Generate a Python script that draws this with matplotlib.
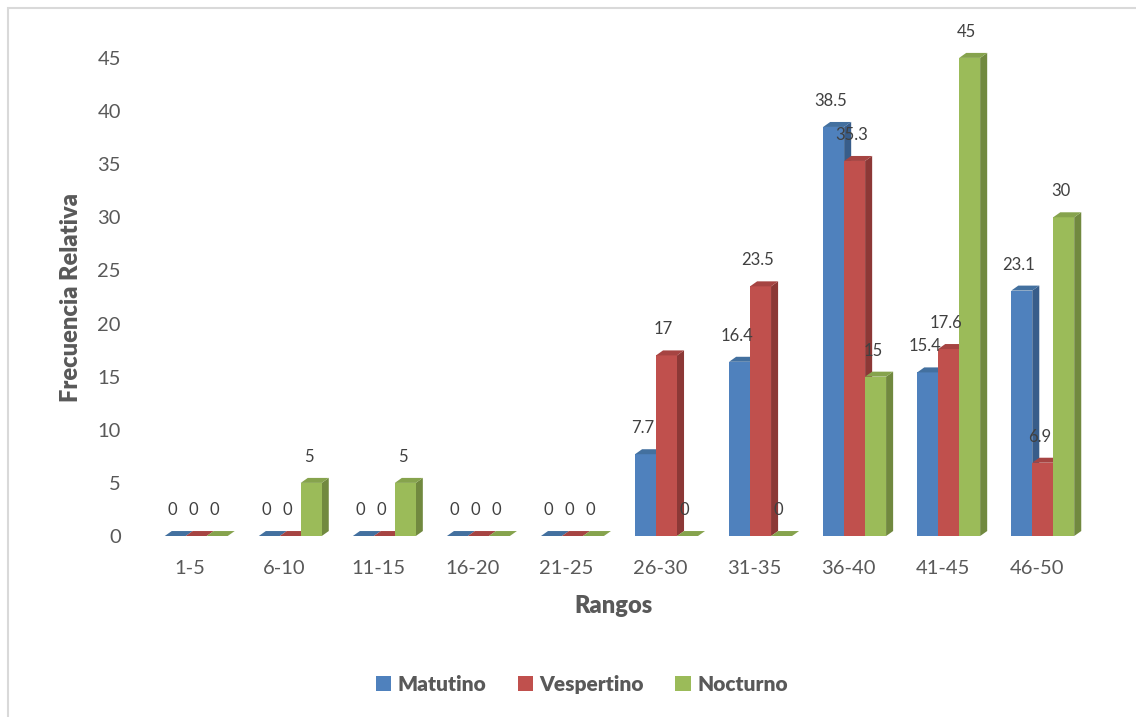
import numpy as np
import matplotlib.pyplot as plt
from matplotlib.patches import Polygon, Rectangle

rangos = ['1-5', '6-10', '11-15', '16-20', '21-25', '26-30', '31-35', '36-40', '41-45', '46-50']
matutino = [0, 0, 0, 0, 0, 7.7, 16.4, 38.5, 15.4, 23.1]
vespertino = [0, 0, 0, 0, 0, 17, 23.5, 35.3, 17.6, 6.9]
nocturno = [0, 5, 5, 0, 0, 0, 0, 15, 45, 30]

series = [('Matutino', matutino), ('Vespertino', vespertino), ('Nocturno', nocturno)]
front = ['#4F81BD', '#C0504D', '#9BBB59']
side = ['#385D8A', '#8C3836', '#71893F']
top = ['#43709F', '#A64442', '#86A34D']

plt.rcParams['font.family'] = ['Lato', 'DejaVu Sans']
gray = '#595959'

fig = plt.figure(figsize=(11.36, 7.17), dpi=100)
ax = fig.add_axes([0.126, 0.2524, 0.828, 0.7113])

# outer light border of the chart area (top and left edges visible)
fig.patches.append(Rectangle((8 / 1136, -0.1), 1.2, 1 - 8 / 717 + 0.1,
                             transform=fig.transFigure, fill=False,
                             edgecolor='#D9D9D9', linewidth=1.5))

x = np.arange(len(rangos))
w = 0.223          # bar width
dx, dy = 0.075, 0.47   # fake depth
shift = 0.064

for j, (name, vals) in enumerate(series):
    z = 2 + j * 3
    x0 = x + shift + (j - 1.5) * w
    ax.bar(x0, vals, width=w, align='edge', color=front[j], zorder=z + 1,
           label=name, linewidth=0)
    for xi, v in zip(x0, vals):
        ax.add_patch(Polygon([(xi + w, 0), (xi + w + dx, dy), (xi + w + dx, v + dy), (xi + w, v)],
                             closed=True, facecolor=side[j], edgecolor='none', zorder=z))
        ax.add_patch(Polygon([(xi, v), (xi + dx, v + dy), (xi + w + dx, v + dy), (xi + w, v)],
                             closed=True, facecolor=top[j], edgecolor='none', zorder=z + 1))
        lab = '{:g}'.format(v)
        ax.annotate(lab, (xi + w / 2, v), xytext=(-2, 13), textcoords='offset points',
                    ha='center', va='bottom', fontsize=12, color='#404040', zorder=20)

ax.set_xlim(-0.5, len(rangos) - 0.5)
ax.set_ylim(0, 48)
ax.set_yticks(np.arange(0, 46, 5))
ax.set_xticks(x)
ax.set_xticklabels(rangos)
for s in ax.spines.values():
    s.set_visible(False)
ax.tick_params(axis='both', length=0, labelsize=14.5, colors=gray)
ax.tick_params(axis='y', pad=16)
ax.tick_params(axis='x', pad=17)

ax.set_xlabel('Rangos', fontsize=17, fontweight='heavy', color=gray, labelpad=13)
ax.set_ylabel('Frecuencia Relativa', fontsize=17, fontweight='heavy', color=gray)
ax.yaxis.set_label_coords(-0.065, 0.467)

handles, labels = ax.get_legend_handles_labels()
leg = fig.legend(handles, labels, loc='center', bbox_to_anchor=(0.512, 0.046), ncol=3,
                 frameon=False, handlelength=0.75, handleheight=0.75, handletextpad=0.3,
                 columnspacing=1.5, prop={'size': 15, 'weight': 'heavy'})
for t in leg.get_texts():
    t.set_color(gray)

fig.savefig('out.png', dpi=100)
